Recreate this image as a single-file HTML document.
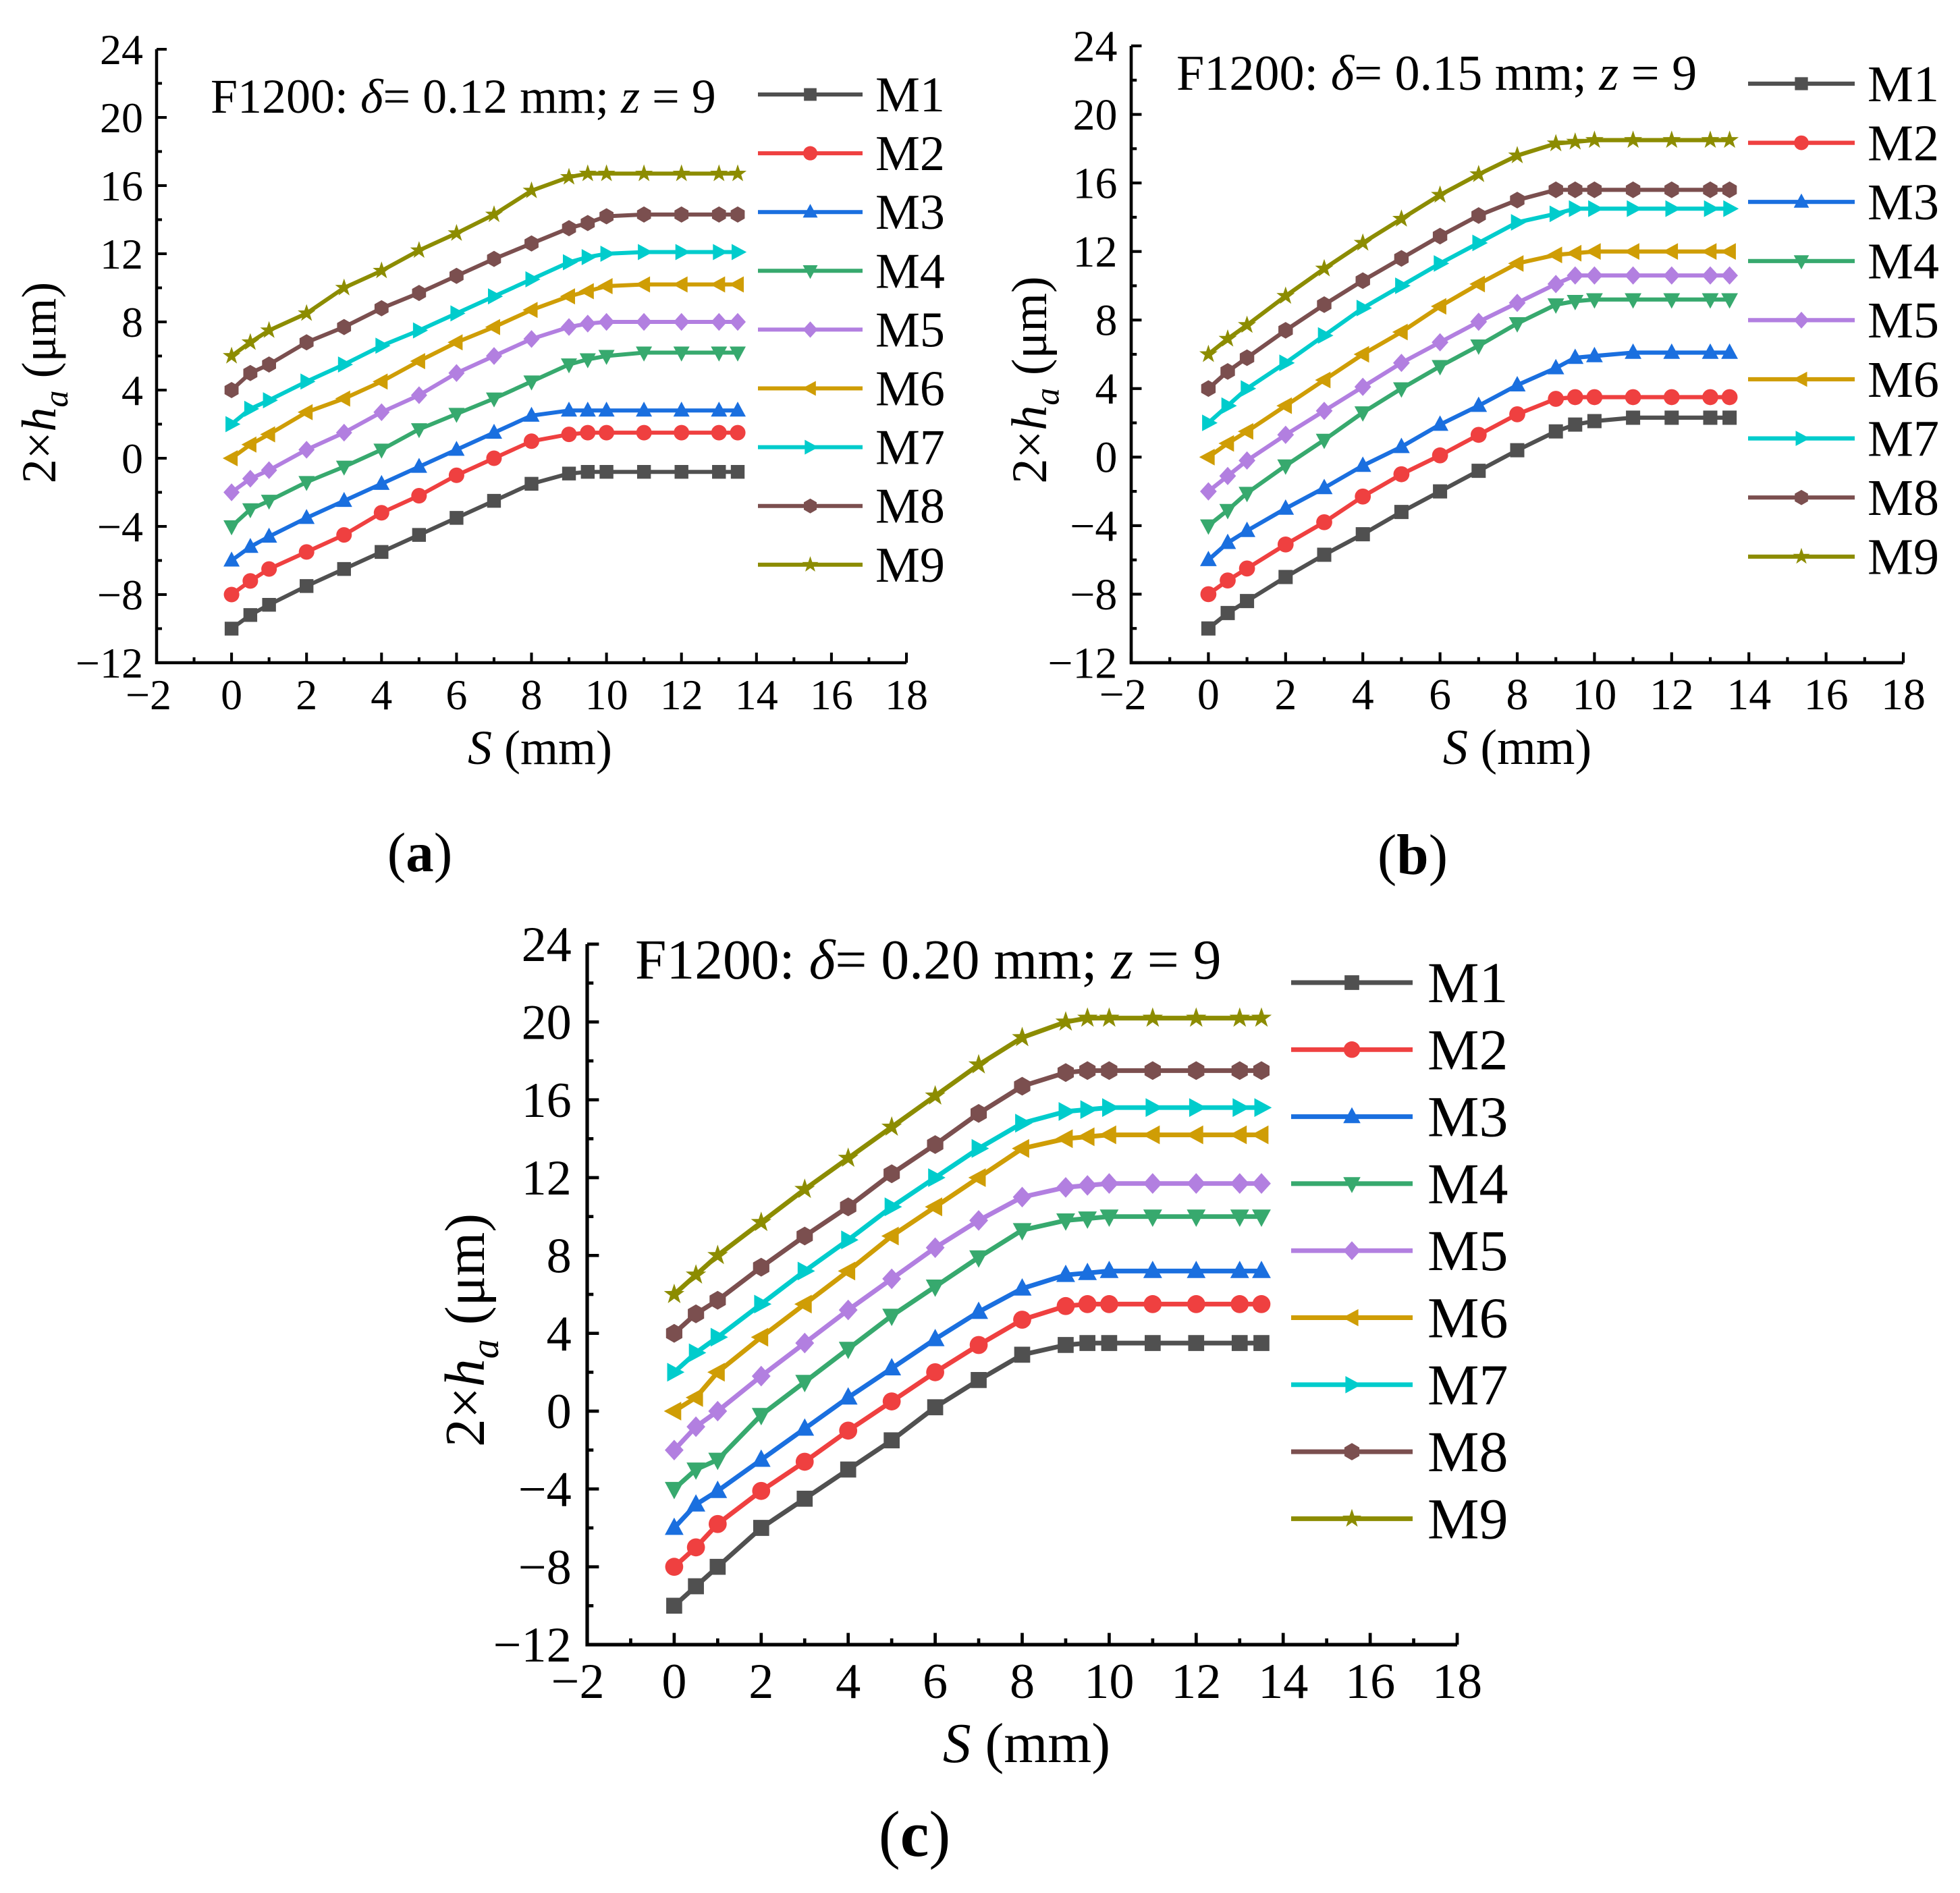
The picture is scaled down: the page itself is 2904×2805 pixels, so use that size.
<!DOCTYPE html>
<html><head><meta charset="utf-8"><style>
html,body{margin:0;padding:0;background:#fff;}
svg{display:block;font-family:"Liberation Serif",serif;}
text{font-family:"Liberation Serif",serif;}
</style></head><body>
<svg id="fig" width="2904" height="2805" viewBox="0 0 2904 2805" xmlns="http://www.w3.org/2000/svg"></svg>
<script>
const xs = [0,0.5,1,2,3,4,5,6,7,8,9,9.5,10,11,12,13,13.5];
const seriesNames = ["M1","M2","M3","M4","M5","M6","M7","M8","M9"];
const xTicks = [-2,0,2,4,6,8,10,12,14,16,18];
const yTicks = [-12,-8,-4,0,4,8,12,16,20,24];
const panelLabels = ["(a)","(b)","(c)"];
const deltas = ["0.12","0.15","0.20"];

const aM1=[-10,-9.2,-8.6,-7.5,-6.5,-5.5,-4.5,-3.5,-2.5,-1.5,-0.9,-0.8,-0.8,-0.8,-0.8,-0.8,-0.8];
const aM2=[-8,-7.2,-6.5,-5.5,-4.5,-3.2,-2.2,-1,0,1,1.4,1.5,1.5,1.5,1.5,1.5,1.5];
const aM3=[-6,-5.2,-4.6,-3.5,-2.5,-1.5,-0.5,0.5,1.5,2.5,2.8,2.8,2.8,2.8,2.8,2.8,2.8];
const aM4=[-4,-3,-2.5,-1.4,-0.5,0.5,1.7,2.6,3.5,4.5,5.5,5.8,6,6.2,6.2,6.2,6.2];
const aM5=[-2,-1.2,-0.7,0.5,1.5,2.7,3.7,5,6,7,7.7,7.9,8,8,8,8,8];
const aM6=[0,0.8,1.4,2.7,3.5,4.5,5.7,6.8,7.7,8.7,9.5,9.8,10.1,10.2,10.2,10.2,10.2];
const aM7=[2,2.9,3.4,4.5,5.5,6.6,7.5,8.5,9.5,10.5,11.5,11.8,12,12.1,12.1,12.1,12.1];
const aM8=[4,5,5.5,6.8,7.7,8.8,9.7,10.7,11.7,12.6,13.5,13.8,14.2,14.3,14.3,14.3,14.3];
const aM9=[6,6.8,7.5,8.5,10,11,12.2,13.2,14.3,15.7,16.5,16.7,16.7,16.7,16.7,16.7,16.7];

const bM1=[-10,-9.1,-8.4,-7,-5.7,-4.5,-3.2,-2,-0.8,0.4,1.5,1.9,2.1,2.3,2.3,2.3,2.3];
const bM2=[-8,-7.2,-6.5,-5.1,-3.8,-2.3,-1,0.1,1.3,2.5,3.4,3.5,3.5,3.5,3.5,3.5,3.5];
const bM3=[-6,-5,-4.3,-3,-1.8,-0.5,0.6,1.9,3,4.2,5.2,5.8,5.9,6.1,6.1,6.1,6.1];
const bM4=[-4,-3.1,-2.1,-0.5,1,2.6,4,5.3,6.5,7.8,8.9,9.1,9.2,9.2,9.2,9.2,9.2];
const bM5=[-2,-1.1,-0.2,1.3,2.7,4.1,5.5,6.7,7.9,9,10.1,10.6,10.6,10.6,10.6,10.6,10.6];
const bM6=[0,0.8,1.5,3,4.5,6,7.3,8.8,10.1,11.3,11.8,11.9,12,12,12,12,12];
const bM7=[2,3,4,5.5,7.1,8.7,10,11.3,12.5,13.7,14.2,14.5,14.5,14.5,14.5,14.5,14.5];
const bM8=[4,5,5.8,7.4,8.9,10.3,11.6,12.9,14.1,15,15.6,15.6,15.6,15.6,15.6,15.6,15.6];
const bM9=[6,6.9,7.7,9.4,11,12.5,13.9,15.3,16.5,17.6,18.3,18.4,18.5,18.5,18.5,18.5,18.5];

const cM1=[-10,-9,-8,-6,-4.5,-3,-1.5,0.2,1.6,2.9,3.4,3.5,3.5,3.5,3.5,3.5,3.5];
const cM2=[-8,-7,-5.8,-4.1,-2.6,-1,0.5,2,3.4,4.7,5.4,5.5,5.5,5.5,5.5,5.5,5.5];
const cM3=[-6,-4.8,-4.1,-2.5,-0.9,0.7,2.2,3.7,5.1,6.3,7,7.1,7.2,7.2,7.2,7.2,7.2];
const cM4=[-4,-3,-2.5,-0.2,1.5,3.2,4.9,6.4,7.9,9.3,9.8,9.9,10,10,10,10,10];
const cM5=[-2,-0.8,0,1.8,3.5,5.2,6.8,8.4,9.8,11,11.5,11.6,11.7,11.7,11.7,11.7,11.7];
const cM6=[0,0.7,2,3.8,5.5,7.2,9,10.5,12,13.5,14,14.1,14.2,14.2,14.2,14.2,14.2];
const cM7=[2,3,3.8,5.5,7.2,8.8,10.5,12,13.5,14.8,15.4,15.5,15.6,15.6,15.6,15.6,15.6];
const cM8=[4,5,5.7,7.4,9,10.5,12.2,13.7,15.3,16.7,17.4,17.5,17.5,17.5,17.5,17.5,17.5];
const cM9=[6,7,8,9.7,11.4,13,14.6,16.2,17.8,19.2,20,20.2,20.2,20.2,20.2,20.2,20.2];

const colors=["#505050","#ef4040","#1a6fdf","#37a96e","#b27fe0","#cf9d05","#00cccc","#7b4f4f","#8c8c00"];
const shapes=["square","circle","up","down","diamond","left","right","hex","star"];

const panels=[
 {key:"a",data:[aM1,aM2,aM3,aM4,aM5,aM6,aM7,aM8,aM9],x0:232,x1:1343,y0:982,y1:73,k:1,
  tx:312,ty:167,lx0:1123,lx1:1278,ltx:1297,ly:140,lsp:87.1,ytx:82,yty:567,xtx:800,xty:1132,tickBase:1051,plx:622,ply:1291},
 {key:"b",data:[bM1,bM2,bM3,bM4,bM5,bM6,bM7,bM8,bM9],x0:1676,x1:2820,y0:982,y1:68,k:1.03,
  tx:1743,ty:133,lx0:2590,lx1:2748,ltx:2767,ly:124,lsp:87.6,ytx:1550,yty:563,xtx:2248,xty:1132,tickBase:1051,plx:2093,ply:1295},
 {key:"c",data:[cM1,cM2,cM3,cM4,cM5,cM6,cM7,cM8,cM9],x0:870,x1:2159,y0:2437,y1:1399,k:1.16,
  tx:941,ty:1450,lx0:1913,lx1:2093,ltx:2115,ly:1456,lsp:99.3,ytx:717,yty:1971,xtx:1521,xty:2611,tickBase:2516,plx:1355,ply:2750}
];

const NS="http://www.w3.org/2000/svg";
const svg=document.getElementById("fig");
function mk(tag,attrs,parent){const e=document.createElementNS(NS,tag);for(const a in attrs)e.setAttribute(a,attrs[a]);(parent||svg).appendChild(e);return e;}

function markerPath(shape,cx,cy,s){
  const r=s/2;let pts=[];
  if(shape==="square")return `M${cx-r*0.85},${cy-r*0.85}h${1.7*r}v${1.7*r}h${-1.7*r}z`;
  if(shape==="up")pts=[[0,-1.1],[1,0.75],[-1,0.75]];
  if(shape==="down")pts=[[0,1.1],[1,-0.75],[-1,-0.75]];
  if(shape==="left")pts=[[-1.1,0],[0.75,-1],[0.75,1]];
  if(shape==="right")pts=[[1.1,0],[-0.75,-1],[-0.75,1]];
  if(shape==="diamond")pts=[[0,-1.1],[1,0],[0,1.1],[-1,0]];
  if(shape==="hex"){for(let i=0;i<6;i++){const a=Math.PI/6+i*Math.PI/3;pts.push([Math.cos(a),Math.sin(a)]);}}
  if(shape==="star"){for(let i=0;i<10;i++){const a=-Math.PI/2+i*Math.PI/5;const rr=i%2?0.45:1.15;pts.push([rr*Math.cos(a),rr*Math.sin(a)]);}}
  return "M"+pts.map(p=>`${(cx+p[0]*r).toFixed(1)},${(cy+p[1]*r).toFixed(1)}`).join("L")+"Z";
}
function drawMarker(g,shape,cx,cy,s,color){
  if(shape==="circle")return mk("circle",{cx:cx,cy:cy,r:s*0.48,fill:color},g);
  return mk("path",{d:markerPath(shape,cx,cy,s),fill:color},g);
}

panels.forEach((p,pi)=>{
  const k=p.k;
  const X=v=>p.x0+(v+2)*(p.x1-p.x0)/20;
  const Y=v=>p.y0-(v+12)*(p.y0-p.y1)/36;
  const g=mk("g",{});
  
  
  const tickFs=64*k, fs=72*k, aw=4.5*k;
  const ax=mk("path",{d:`M${p.x0},${p.y1}V${p.y0}H${p.x1}`,fill:"none",stroke:"#000","stroke-width":aw},g);
  
  
  for(let v=-12;v<=24;v+=2){
    const major=(v%4===0);
    mk("line",{x1:p.x0,x2:p.x0+(major?15:8)*k,y1:Y(v),y2:Y(v),stroke:"#000","stroke-width":aw*0.9},g);
  }
  yTicks.forEach(v=>{
    const t=mk("text",{x:p.x0-20*k,y:Y(v)+tickFs*0.34,"font-size":tickFs,"text-anchor":"end"},g);
    t.textContent=(v<0?"\u2212":"")+Math.abs(v);
    
    
  });
  for(let v=-2;v<=18;v+=1){
    const major=(v%2===0);
    mk("line",{x1:X(v),x2:X(v),y1:p.y0,y2:p.y0-(major?15:8)*k,stroke:"#000","stroke-width":aw*0.9},g);
  }
  xTicks.forEach(v=>{
    const t=mk("text",{x:X(v)-(v<0?12*k:0),y:p.tickBase,"font-size":tickFs,"text-anchor":"middle"},g);
    t.textContent=(v<0?"\u2212":"")+Math.abs(v);
    
    
  });
  const xt=mk("text",{x:p.xtx,y:p.xty,"font-size":fs,"text-anchor":"middle"},g);
  xt.innerHTML='<tspan font-style="italic">S</tspan> (mm)';
  
  
  const yt=mk("text",{x:0,y:0,"font-size":fs,"text-anchor":"middle",transform:`translate(${p.ytx},${p.yty}) rotate(-90)`},g);
  yt.innerHTML='2×<tspan font-style="italic">h</tspan><tspan font-style="italic" font-size="'+(fs*0.7)+'" dy="'+(fs*0.25)+'">a</tspan><tspan dy="'+(-fs*0.25)+'">  (μm)</tspan>';
  
  
  const an=mk("text",{x:p.tx,y:p.ty,"font-size":fs},g);
  an.innerHTML='F1200: <tspan font-style="italic">δ</tspan>= '+deltas[pi]+' mm; <tspan font-style="italic">z</tspan> = 9';
  
  
  p.data.forEach((vals,si)=>{
    const sg=mk("g",{},g);
    
    
    const d=vals.map((v,i)=>(i?"L":"M")+X(xs[i]).toFixed(1)+","+Y(v).toFixed(1)).join("");
    mk("path",{d:d,fill:"none",stroke:colors[si],"stroke-width":6*k,"stroke-linejoin":"round"},sg);
    vals.forEach((v,i)=>{
      const m=drawMarker(sg,shapes[si],X(xs[i]),Y(v),24*k,colors[si]);
      
      
    });
    const ly=p.ly+si*p.lsp;
    const lg=mk("g",{},g);
    
    
    mk("line",{x1:p.lx0,x2:p.lx1,y1:ly,y2:ly,stroke:colors[si],"stroke-width":6*k},lg);
    drawMarker(lg,shapes[si],(p.lx0+p.lx1)/2,ly,22*k,colors[si]);
    const lt=mk("text",{x:p.ltx,y:ly+25*k,"font-size":fs*1.03},lg);
    lt.textContent=seriesNames[si];
  });
  const pl=mk("text",{x:p.plx,y:p.ply,"font-size":fs*1.15,"text-anchor":"middle"},g);
  pl.innerHTML='(<tspan font-weight="bold">'+p.key+'</tspan>)';
  
  
});
</script>
</body></html>
